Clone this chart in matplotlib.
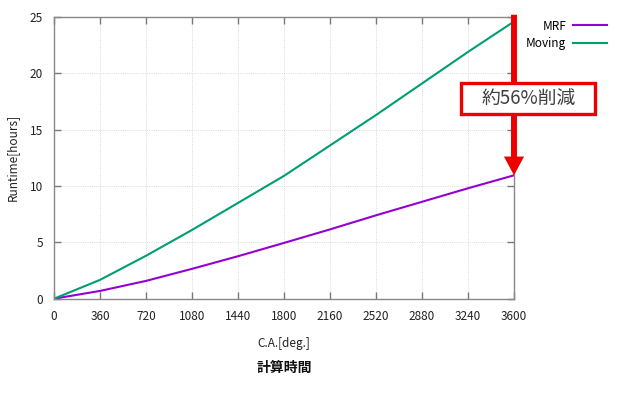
import matplotlib
matplotlib.use("Agg")
import matplotlib.pyplot as plt
from matplotlib.patches import Rectangle

plt.rcParams['font.family'] = ['Noto Sans CJK JP', 'DejaVu Sans']

ca = [0, 360, 720, 1080, 1440, 1800, 2160, 2520, 2880, 3240, 3600]
mrf = [0, 0.69, 1.58, 2.65, 3.77, 4.95, 6.15, 7.4, 8.6, 9.8, 10.95]
moving = [0, 1.67, 3.81, 6.1, 8.5, 10.9, 13.6, 16.3, 19.1, 21.9, 24.6]
xticks = [0, 360, 720, 1080, 1440, 1800, 2160, 2520, 2880, 3240, 3600]
yticks = [0, 5, 10, 15, 20, 25]

W, H = 621, 395
fig = plt.figure(figsize=(W/100, H/100), dpi=100)
ax = fig.add_axes([54/W, 1-298.7/H, 460/W, (298.7-17)/H])

ax.plot(ca, mrf, color='#9400D3', lw=1.5, label='MRF')
ax.plot(ca, moving, color='#009E73', lw=1.5, label='Moving')

ax.set_xlim(0, 3600)
ax.set_ylim(0, 25)
ax.set_xticks(xticks)
ax.set_yticks(yticks)
ax.grid(True, color='#cccccc', lw=0.6, ls=':')
ax.tick_params(direction='in', length=5, width=1, color='#777777',
               top=True, right=True, labelsize=8.5, labelcolor='#222222', pad=8)
for s in ax.spines.values():
    s.set_color('#888888')
    s.set_linewidth(1)

ax.set_xlabel('C.A.[deg.]', fontsize=8.5, color='#222222', labelpad=10)
ax.set_ylabel('Runtime[hours]', fontsize=8.5, color='#222222', labelpad=8)

leg = ax.legend(loc='upper right', bbox_to_anchor=(607/W, 1-19.5/H),
                bbox_transform=fig.transFigure, frameon=False,
                markerfirst=False, fontsize=8.5, handlelength=2.9,
                handletextpad=0.55, labelspacing=0.35,
                borderaxespad=0, borderpad=0)

# red arrow from Moving end down to MRF end
ax.annotate('', xy=(ca[-1], mrf[-1]), xytext=(ca[-1], 25.2),
            arrowprops=dict(width=4.3, headwidth=14.5, headlength=13.5,
                            color='#ee0000', lw=0, shrink=0),
            annotation_clip=False, zorder=5)

# label box
fig.patches.append(Rectangle((460.8/W, 1-113.5/H), (595.2-460.8)/W, (113.5-83.2)/H,
                             transform=fig.transFigure, fc='white', ec='#ee0000',
                             lw=2.4, zorder=6, figure=fig))
fig.text(528.3/W, 1-98.5/H, '約56%削減', fontsize=13.5, color='#404040',
         ha='center', va='center', zorder=7)

fig.text(284/W, 1-368/H, '計算時間', fontsize=10, color='#111111',
         ha='center', va='center', fontweight='bold')

fig.savefig('out.png', dpi=100)
